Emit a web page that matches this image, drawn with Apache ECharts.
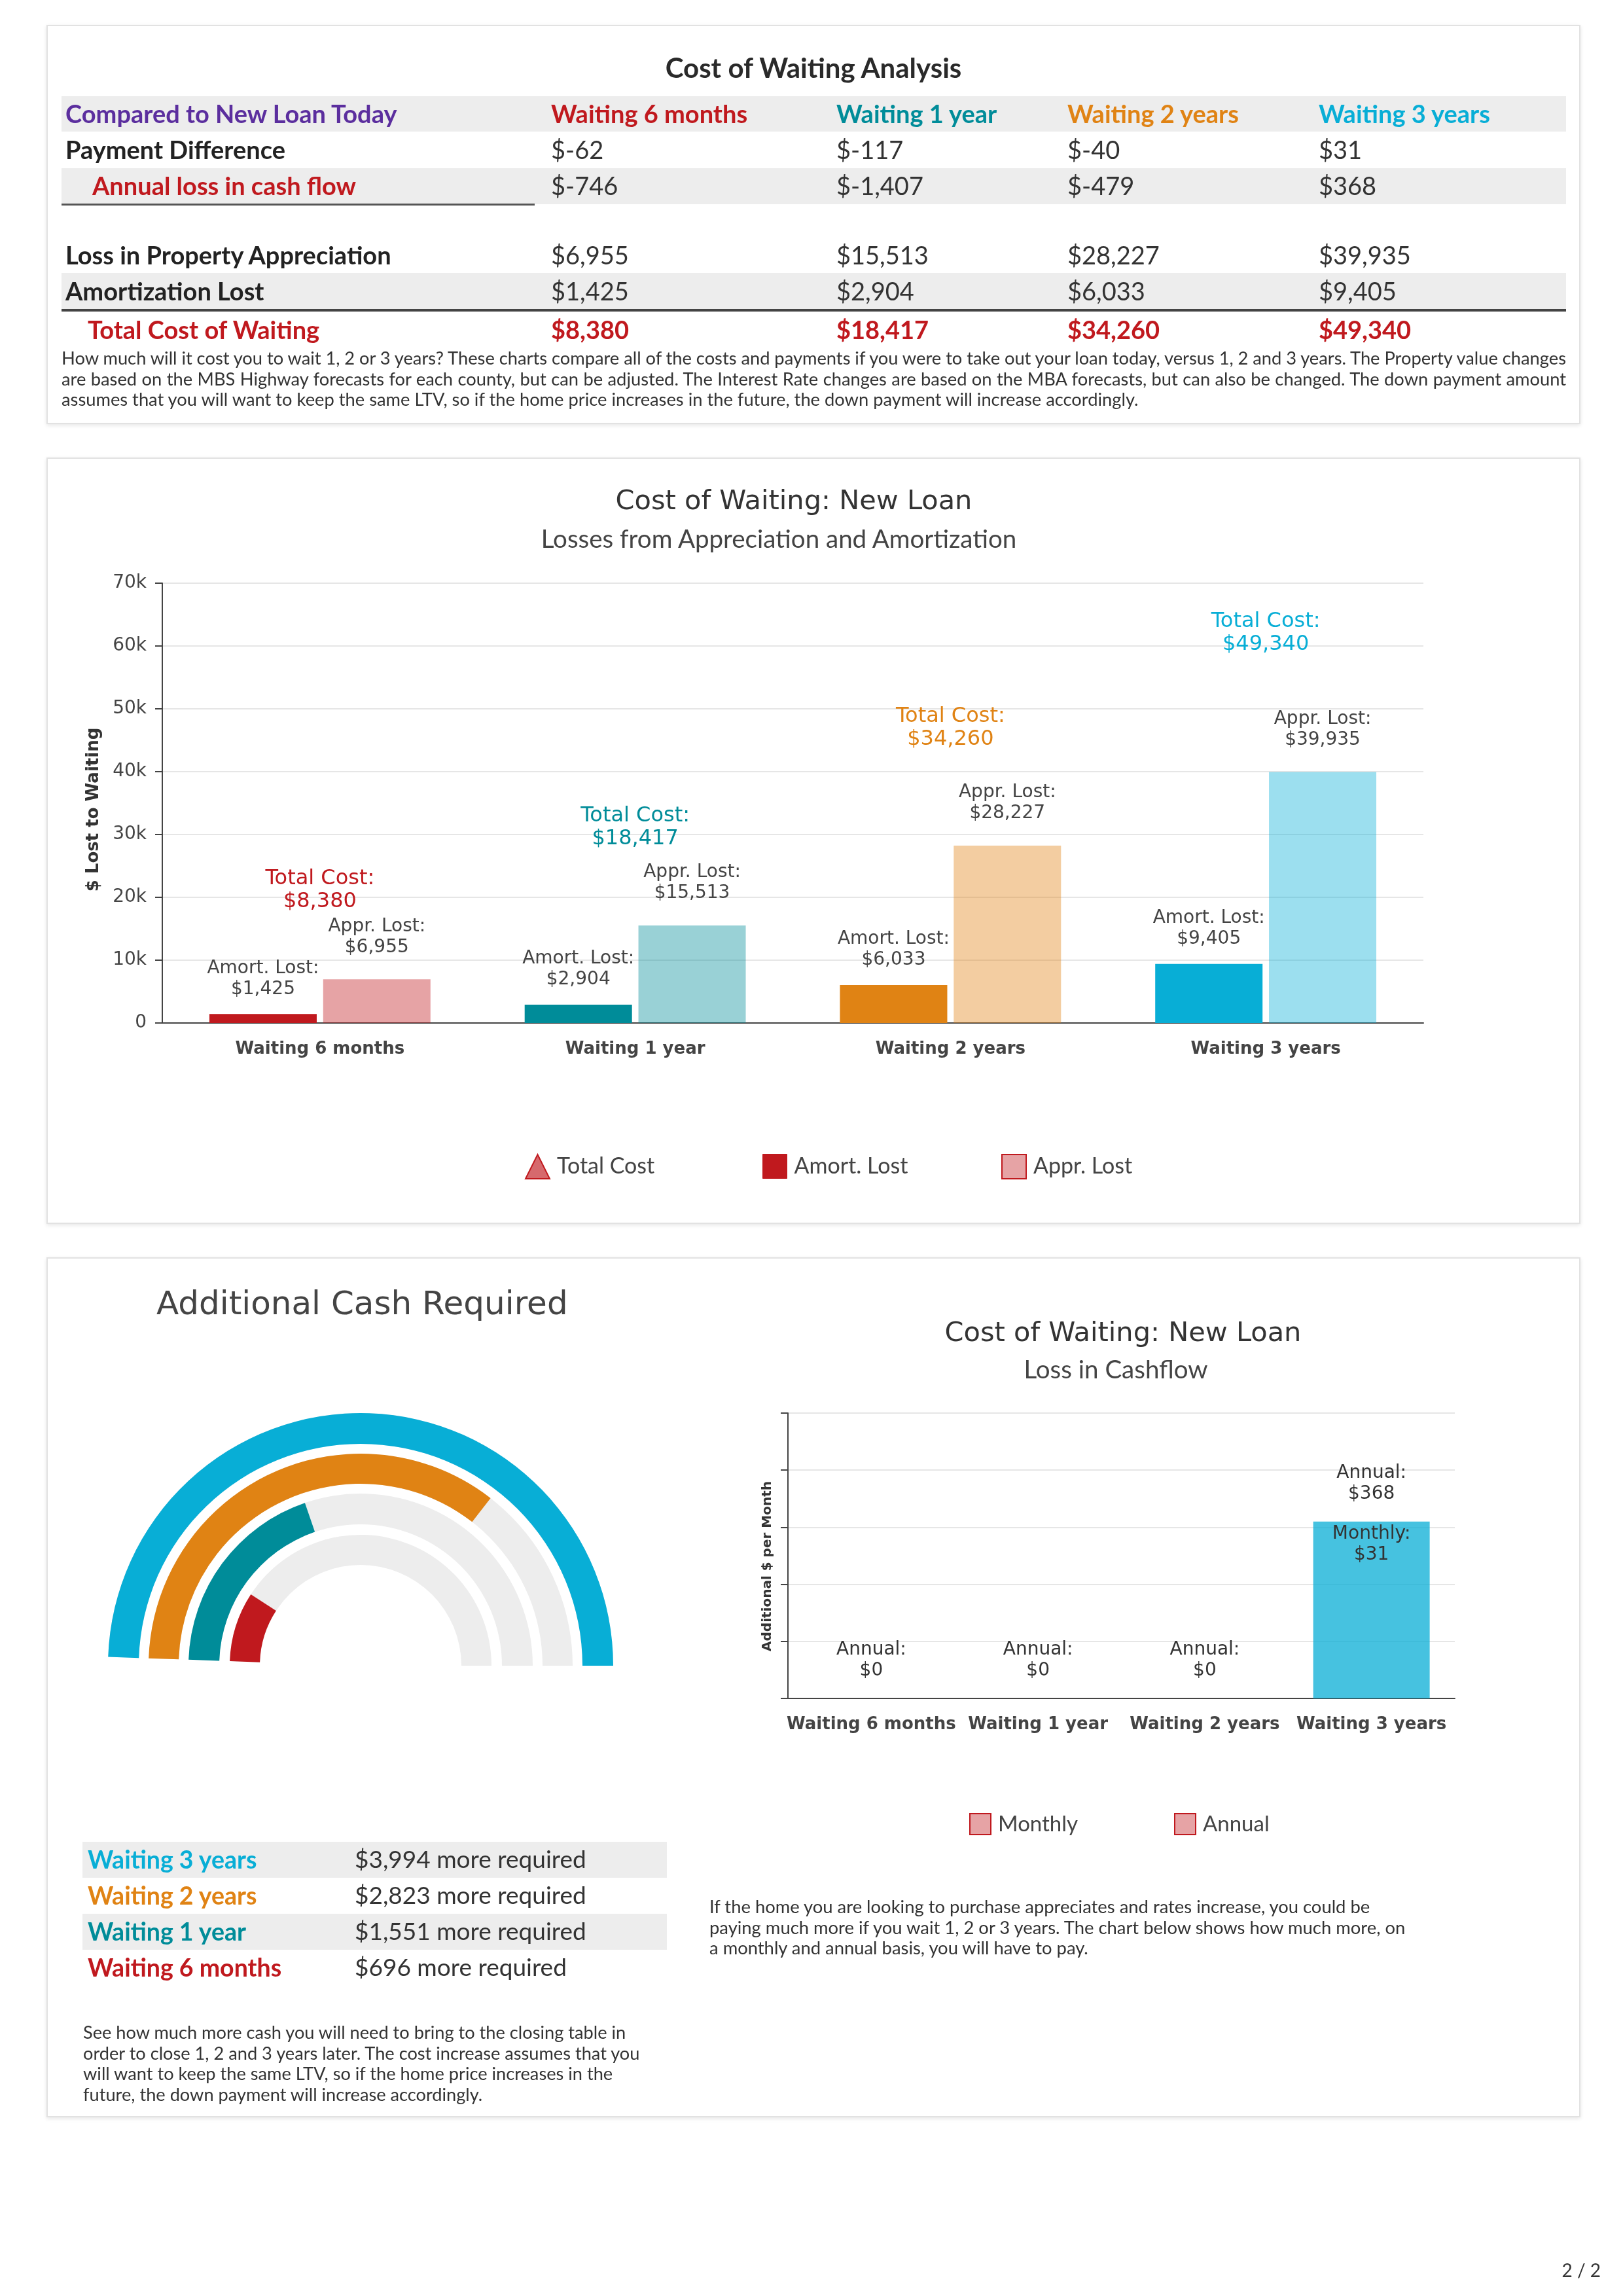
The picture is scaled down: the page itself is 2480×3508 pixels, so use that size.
<!DOCTYPE html>
<html>
<head>
<meta charset="utf-8">
<script src="https://cdn.jsdelivr.net/npm/echarts@6/dist/echarts.min.js"></script>
<style>
html,body{margin:0;padding:0;background:#fff;}
#page{position:relative;width:2480px;height:3508px;overflow:hidden;font-family:Lato,"Noto Sans",sans-serif;}
.panel{position:absolute;background:#fff;border:2px solid #e2e2e2;box-shadow:0 2px 6px rgba(0,0,0,0.10);box-sizing:border-box;}
.bg{position:absolute;background:#ededed;}
.rule{position:absolute;}
#chart{position:absolute;left:0;top:0;width:2480px;height:3508px;z-index:1;}
#texts{position:absolute;left:0;top:0;width:2480px;height:3508px;z-index:2;pointer-events:none;}
.t{position:absolute;white-space:nowrap;line-height:1.2;transform:translateY(-50%);}
.c{transform:translate(-50%,-50%);}
.j{position:absolute;line-height:1.2;transform:translateY(-50%);text-align:justify;text-align-last:justify;white-space:nowrap;word-spacing:-3px;}
</style>
</head>
<body>
<div id="page">
  <div class="panel" style="left:71px;top:38px;width:2344px;height:610px;"></div>
  <div class="panel" style="left:71px;top:699px;width:2344px;height:1171px;"></div>
  <div class="panel" style="left:71px;top:1921px;width:2344px;height:1314px;"></div>
  <div id="bgs"></div>
  <div id="chart"></div>
  <div id="texts"></div>
</div>
<script>
// ---------- data ----------
const categories = ['Waiting 6 months', 'Waiting 1 year', 'Waiting 2 years', 'Waiting 3 years'];
const catColors = ['#C0191E', '#008C99', '#E08314', '#08AED6'];
const paymentDiff = [-62, -117, -40, 31];
const annualCashFlow = [-746, -1407, -479, 368];
const apprLost = [6955, 15513, 28227, 39935];
const amortLost = [1425, 2904, 6033, 9405];
const totalCost = [8380, 18417, 34260, 49340];
const cashRequired = [696, 1551, 2823, 3994];
const monthlyLoss = [0, 0, 0, 31];
const annualLoss = [0, 0, 0, 368];
const lossAxisMax = 70000, lossAxisStep = 10000;
const cashAxisMax = 50, cashAxisStep = 10;

const fmt = v => v.toLocaleString('en-US');
function alpha(hex, a) {
  const n = parseInt(hex.slice(1), 16);
  return 'rgba(' + ((n >> 16) & 255) + ',' + ((n >> 8) & 255) + ',' + (n & 255) + ',' + a + ')';
}

// ---------- HTML text / table ----------
const bgs = document.getElementById('bgs');
const texts = document.getElementById('texts');
function box(parent, cls, css) {
  const d = document.createElement('div');
  d.className = cls; d.style.cssText = css; parent.appendChild(d); return d;
}
function txt(s, x, y, css, center) {
  const d = document.createElement('div');
  d.className = 't' + (center ? ' c' : '');
  d.style.cssText = 'left:' + x + 'px;top:' + y + 'px;' + css;
  d.textContent = s; texts.appendChild(d); return d;
}
// top table backgrounds and rules
box(bgs, 'bg', 'left:94px;top:147px;width:2299px;height:54px;');
box(bgs, 'bg', 'left:94px;top:257px;width:2299px;height:55px;');
box(bgs, 'bg', 'left:94px;top:417px;width:2299px;height:55px;');
box(bgs, 'rule', 'left:94px;top:311px;width:723px;height:3px;background:#555;');
box(bgs, 'rule', 'left:94px;top:472px;width:2299px;height:4px;background:#444;');

txt('Cost of Waiting Analysis', 1243, 103, 'font-size:42px;font-weight:700;color:#2a2a2a;', true);
const colX = [842, 1278, 1631, 2015];
const lab = 'font-size:38px;font-weight:700;';
txt('Compared to New Loan Today', 100, 174, lab + 'color:#5B2E9E;');
categories.forEach((c, i) => txt(c, colX[i], 174, lab + 'color:' + catColors[i] + ';'));
const rows = [
  {label: 'Payment Difference', x: 100, y: 229, vals: paymentDiff, color: '#222', vcolor: '#333', bold: false},
  {label: 'Annual loss in cash flow', x: 141, y: 284, vals: annualCashFlow, color: '#C0191E', vcolor: '#333', bold: false},
  {label: 'Loss in Property Appreciation', x: 100, y: 390, vals: apprLost, color: '#222', vcolor: '#333', bold: false},
  {label: 'Amortization Lost', x: 100, y: 445, vals: amortLost, color: '#222', vcolor: '#333', bold: false},
  {label: 'Total Cost of Waiting', x: 134, y: 504, vals: totalCost, color: '#C0191E', vcolor: '#C0191E', bold: true}
];
rows.forEach(r => {
  txt(r.label, r.x, r.y, lab + 'color:' + r.color + ';');
  r.vals.forEach((v, i) => txt('$' + fmt(v), colX[i], r.y,
    'font-size:38px;font-weight:' + (r.bold ? 700 : 400) + ';color:' + r.vcolor + ';'));
});
const foot1 = [
  'How much will it cost you to wait 1, 2 or 3 years? These charts compare all of the costs and payments if you were to take out your loan today, versus 1, 2 and 3 years. The Property value changes',
  'are based on the MBS Highway forecasts for each county, but can be adjusted. The Interest Rate changes are based on the MBA forecasts, but can also be changed. The down payment amount',
  'assumes that you will want to keep the same LTV, so if the home price increases in the future, the down payment will increase accordingly.'
];
foot1.forEach((s, i) => {
  const d = txt(s, 94, 547 + i * 31.5, 'font-size:27.3px;color:#333;');
  if (i < 2) { d.className = 'j'; d.style.width = '2299px'; }
});

// chart titles
const ttl = 'font-family:"DejaVu Sans";font-size:41.5px;color:#333;';
const sub = 'font-size:38.5px;font-weight:400;color:#444;';
txt('Cost of Waiting: New Loan', 1213, 764, ttl, true);
txt('Losses from Appreciation and Amortization', 1190, 822, sub, true);
txt('Additional Cash Required', 239, 1991, 'font-family:"DejaVu Sans";font-size:50px;color:#444;');
txt('Cost of Waiting: New Loan', 1716, 2035, ttl, true);
txt('Loss in Cashflow', 1705, 2091, sub, true);

// cash table (3 years first)
const cashRowsOrder = [3, 2, 1, 0];
cashRowsOrder.forEach((ci, r) => {
  const top = 2814 + r * 55;
  if (r % 2 === 0) box(bgs, 'bg', 'left:126px;top:' + top + 'px;width:893px;height:55px;');
  txt(categories[ci], 134, top + 26, 'font-size:37.5px;font-weight:700;color:' + catColors[ci] + ';');
  txt('$' + fmt(cashRequired[ci]) + ' more required', 542, top + 26, 'font-size:37px;font-weight:400;color:#333;');
});
const foot2 = [
  'See how much more cash you will need to bring to the closing table in',
  'order to close 1, 2 and 3 years later. The cost increase assumes that you',
  'will want to keep the same LTV, so if the home price increases in the',
  'future, the down payment will increase accordingly.'
];
foot2.forEach((s, i) => txt(s, 127, 3105 + i * 31.7, 'font-size:27.2px;color:#333;'));
const foot3 = [
  'If the home you are looking to purchase appreciates and rates increase, you could be',
  'paying much more if you wait 1, 2 or 3 years. The chart below shows how much more, on',
  'a monthly and annual basis, you will have to pay.'
];
foot3.forEach((s, i) => txt(s, 1084, 2913 + i * 31.5, 'font-size:27.4px;color:#333;'));
const pn = txt('2 / 2', 2446, 3469, 'font-size:28px;color:#333;');
pn.style.transform = 'translate(-100%,-50%)';

// ---------- ECharts ----------
const chart = echarts.init(document.getElementById('chart'), null, {renderer: 'canvas'});
const F = 'DejaVu Sans';
const axisColor = '#444';
function catAxis(gi) {
  return {
    gridIndex: gi, type: 'category', data: categories,
    axisLine: {lineStyle: {color: axisColor, width: 2}},
    axisTick: {alignWithLabel: true, length: 11, lineStyle: {color: axisColor, width: 2}},
    axisLabel: {fontFamily: F, fontSize: 26, fontWeight: 'bold', color: '#444', margin: 27, interval: 0}
  };
}
const gaugeRadii = [200, 263, 324, 386];
const gaugeWidths = [46, 47, 46, 47];
const cashMax = Math.max.apply(null, cashRequired);
const gauges = cashRequired.map((v, i) => ({
  type: 'gauge', center: [551, 2545], radius: gaugeRadii[i],
  startAngle: 178, endAngle: 0, min: 0, max: cashMax,
  axisLine: {lineStyle: {width: gaugeWidths[i], color: [[1, '#EDEDED']]}},
  progress: {show: true, width: gaugeWidths[i], itemStyle: {color: catColors[i]}},
  pointer: {show: false}, anchor: {show: false},
  axisTick: {show: false}, splitLine: {show: false}, axisLabel: {show: false},
  detail: {show: false}, title: {show: false},
  data: [{value: v, name: categories[i]}]
}));
function legendItem(name, icon, style, left, top, size, fs) {
  return {
    data: [{name: name, icon: icon, itemStyle: style}], left: left, top: top, padding: 0,
    itemWidth: size, itemHeight: size, selectedMode: false,
    textStyle: {fontFamily: 'Lato', fontSize: fs, color: '#444', fontWeight: 400, padding: [0, 0, 0, 6]}
  };
}
const hidden = {color: 'rgba(0,0,0,0)', opacity: 1};
const option = {
  animation: false,
  grid: [
    {left: 248, top: 891, width: 1927, height: 672},
    {left: 1204, top: 2159, width: 1019, height: 436}
  ],
  xAxis: [catAxis(0), catAxis(1)],
  yAxis: [
    {
      gridIndex: 0, type: 'value', min: 0, max: lossAxisMax, interval: lossAxisStep,
      axisLine: {show: true, lineStyle: {color: axisColor, width: 2}},
      axisTick: {show: true, length: 11, lineStyle: {color: axisColor, width: 2}},
      splitLine: {lineStyle: {color: '#e6e6e6', width: 2}},
      axisLabel: {fontFamily: F, fontSize: 28, color: '#444', margin: 24,
        formatter: v => v === 0 ? '0' : (v / 1000) + 'k'},
      name: '$ Lost to Waiting', nameLocation: 'middle', nameGap: 92,
      nameTextStyle: {fontFamily: F, fontWeight: 'bold', fontSize: 26, color: '#333', padding: [0, 20, 0, 0]}
    },
    {
      gridIndex: 1, type: 'value', min: 0, max: cashAxisMax, interval: cashAxisStep,
      axisLine: {show: true, lineStyle: {color: axisColor, width: 2}},
      axisTick: {show: true, length: 11, lineStyle: {color: axisColor, width: 2}},
      splitLine: {lineStyle: {color: '#e6e6e6', width: 2}},
      axisLabel: {show: false},
      name: 'Additional $ per Month', nameLocation: 'middle', nameGap: 21,
      nameTextStyle: {fontFamily: F, fontWeight: 'bold', fontSize: 20, color: '#333', padding: [0, 32, 0, 0]}
    }
  ],
  legend: [
    legendItem('Total Cost', 'triangle', {color: 'rgba(192,25,30,0.65)', borderColor: '#C0191E', borderWidth: 2}, 802, 1763, 37, 34),
    legendItem('Amort. Lost', 'rect', {color: '#C0191E', borderColor: '#C0191E', borderWidth: 1}, 1165, 1763, 37, 34),
    legendItem('Appr. Lost', 'rect', {color: '#E6A3A5', borderColor: '#C0191E', borderWidth: 2}, 1530, 1763, 37, 34),
    legendItem('Monthly', 'rect', {color: '#E6A3A5', borderColor: '#C0191E', borderWidth: 2}, 1481, 2770, 32, 33),
    legendItem('Annual', 'rect', {color: '#E6A3A5', borderColor: '#C0191E', borderWidth: 2}, 1794, 2770, 32, 33)
  ],
  series: [
    {
      name: 'Amort. Lost', type: 'bar', xAxisIndex: 0, yAxisIndex: 0, barWidth: 164, barGap: '6%',
      itemStyle: {color: '#C0191E'},
      data: amortLost.map((v, i) => ({value: v, itemStyle: {color: catColors[i]}})),
      label: {show: true, position: 'top', distance: 22, fontFamily: F, fontSize: 28, lineHeight: 32,
        color: '#444', formatter: p => 'Amort. Lost:\n$' + fmt(p.value)}
    },
    {
      name: 'Appr. Lost', type: 'bar', xAxisIndex: 0, yAxisIndex: 0, barWidth: 164, barGap: '6%',
      itemStyle: {color: '#E6A3A5'},
      data: apprLost.map((v, i) => ({value: v, itemStyle: {color: alpha(catColors[i], 0.4)}})),
      label: {show: true, position: 'top', distance: 33, fontFamily: F, fontSize: 28, lineHeight: 32,
        color: '#444', formatter: p => 'Appr. Lost:\n$' + fmt(p.value)}
    },
    {
      name: 'Total Cost', type: 'scatter', xAxisIndex: 0, yAxisIndex: 0, symbol: 'triangle', symbolSize: 2,
      itemStyle: hidden,
      data: totalCost.map((v, i) => ({value: v, label: {color: catColors[i]}})),
      label: {show: true, position: 'top', distance: 86, fontFamily: F, fontSize: 32, lineHeight: 35,
        formatter: p => 'Total Cost:\n$' + fmt(p.value)}
    },
    {
      name: 'Monthly', type: 'bar', xAxisIndex: 1, yAxisIndex: 1, barWidth: 178,
      itemStyle: {color: '#E6A3A5'},
      data: monthlyLoss.map((v, i) => ({value: v, itemStyle: {color: alpha(catColors[i], 0.75)}})),
      label: {show: true, position: 'insideTop', distance: 3, fontFamily: F, fontSize: 28, lineHeight: 32,
        color: '#333', formatter: p => p.value > 0 ? 'Monthly:\n$' + fmt(p.value) : ''}
    },
    {
      name: 'Annual', type: 'scatter', xAxisIndex: 1, yAxisIndex: 1, symbolSize: 2,
      itemStyle: hidden,
      data: monthlyLoss.slice(),
      label: {show: true, position: 'top', distance: 25, fontFamily: F, fontSize: 28, lineHeight: 32,
        color: '#333', formatter: p => 'Annual:\n$' + fmt(annualLoss[p.dataIndex])}
    }
  ].concat(gauges)
};
chart.setOption(option);
</script>
</body>
</html>
